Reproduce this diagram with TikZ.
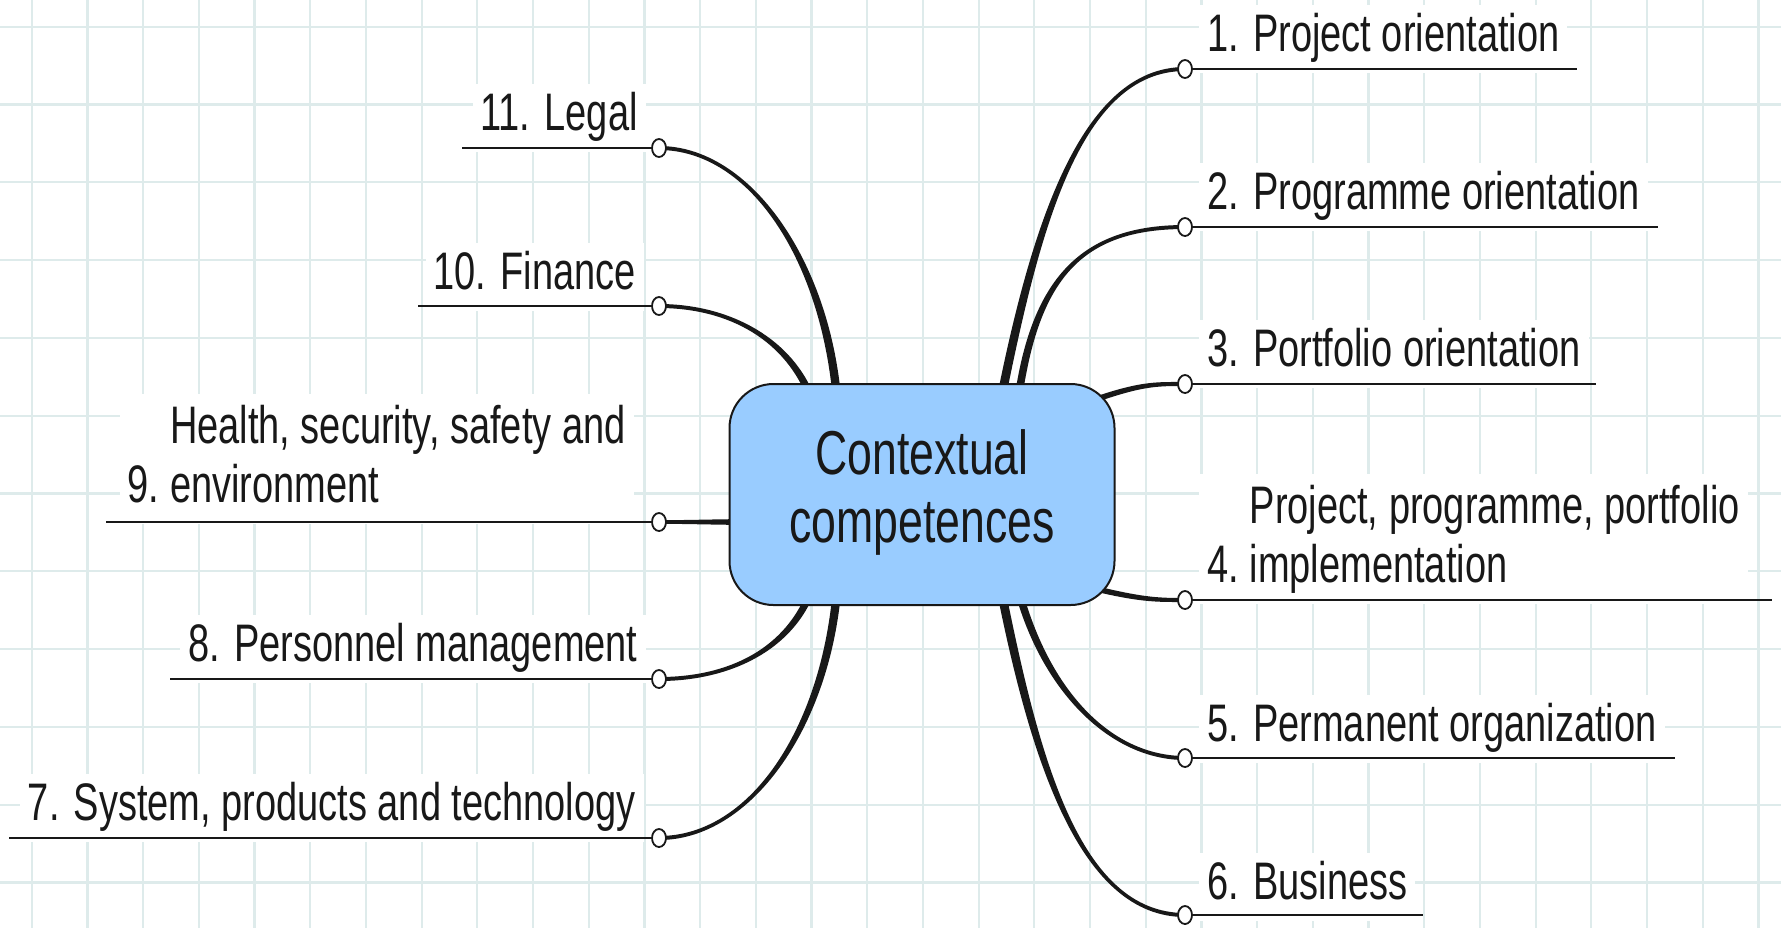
\documentclass[tikz,border=0pt]{standalone}
\usepackage{fontspec}
\setmainfont{Liberation Sans}
\usetikzlibrary{shapes.geometric,calc}
\pgfdeclarelayer{background}
\pgfsetlayers{background,main}
\definecolor{gridc}{RGB}{222,235,235}
\definecolor{boxblue}{RGB}{153,204,255}
\definecolor{ink}{RGB}{24,24,24}
\newcommand{\vstr}[1]{\scalebox{1}[1.39]{#1}}
% tapered connector: start, control 1, control 2, end, half width at start, half width at end
\newcommand{\taper}[6]{%
  \fill[ink] ($(#1)!#5!90:(#2)$) .. controls ($(#2)!#5!-90:(#1)$) and ($(#3)!#6!90:(#4)$) .. ($(#4)!#6!-90:(#3)$)
     -- ($(#4)!#6!90:(#3)$) .. controls ($(#3)!#6!-90:(#4)$) and ($(#2)!#5!90:(#1)$) .. ($(#1)!#5!-90:(#2)$) -- cycle;}
\begin{document}
\begin{tikzpicture}[x=0.5pt,y=-0.5pt,
  lbl/.style={fill=white,inner xsep=4pt,inner ysep=4pt,text depth=7pt,text=ink,font=\fontsize{19}{21.2}\selectfont},
  uline/.style={line width=1.4pt,draw=ink},
  knob/.style={ellipse,draw=ink,fill=white,line width=0.9pt,minimum width=7pt,minimum height=9pt,inner sep=0pt},
  centre/.style={rounded corners=22pt,draw=ink,line width=1pt,fill=boxblue,minimum width=192.5pt,minimum height=110.5pt,inner sep=0pt,align=center,text=ink,font=\fontsize{22.3}{24.5}\selectfont}]
\useasboundingbox (0,0) rectangle (1781,928);

\node[centre] (ctr) at (922,494.5) {\vstr{\begin{tabular}{@{}c@{}}Contextual\\competences\end{tabular}}};

% knobs
\node[knob] (k1) at (1185,69) {};
\node[knob] (k2) at (1185,227) {};
\node[knob] (k3) at (1185,384) {};
\node[knob] (k4) at (1185,600) {};
\node[knob] (k5) at (1185,758) {};
\node[knob] (k6) at (1185,915) {};
\node[knob] (k11) at (659,148) {};
\node[knob] (k10) at (659,306) {};
\node[knob] (k9) at (659,522) {};
\node[knob] (k8) at (659,679) {};
\node[knob] (k7) at (659,838) {};

% labels
\node[lbl,anchor=base west] (l1) at (1199,51) {\vstr{1. Project orientation}};
\node[lbl,anchor=base west] (l2) at (1199,209) {\vstr{2. Programme orientation}};
\node[lbl,anchor=base west] (l3) at (1199,366) {\vstr{3. Portfolio orientation}};
\node[lbl,anchor=base west] (l4) at (1199,582) {\vstr{\begin{tabular}[b]{@{}l@{\ }l@{}}&Project, programme, portfolio\\4.&implementation\end{tabular}}};
\node[lbl,anchor=base west] (l5) at (1199,741) {\vstr{5. Permanent organization}};
\node[lbl,anchor=base west] (l6) at (1199,899) {\vstr{6. Business}};
\node[lbl,anchor=base east] (l11) at (646,130) {\vstr{11. Legal}};
\node[lbl,anchor=base east] (l10) at (644,289) {\vstr{10. Finance}};
\node[lbl,anchor=base east] (l9) at (634,502) {\vstr{\begin{tabular}[b]{@{}l@{\ }l@{}}&Health, security, safety and\\9.&environment\end{tabular}}};
\node[lbl,anchor=base east] (l8) at (646,661) {\vstr{8. Personnel management}};
\node[lbl,anchor=base east] (l7) at (644,820) {\vstr{7. System, products and technology}};

% underline ends
\coordinate (e1) at (1577,69);
\coordinate (e2) at (1658,227);
\coordinate (e3) at (1596,384);
\coordinate (e4) at (1772,600);
\coordinate (e5) at (1675,758);
\coordinate (e6) at (1423,915);
\coordinate (e11) at (462,148);
\coordinate (e10) at (418,306);
\coordinate (e9) at (106,522);
\coordinate (e8) at (170,679);
\coordinate (e7) at (9,838);
\foreach \n in {1,2,3,4,5,6,7,8,9,10,11} \draw[uline] (k\n) -- (e\n);

% connector start points (inside the central box) and control points
\coordinate (s1) at ($(ctr.center)+(79,-95.5)$);
\coordinate (a1) at (1035,230);  \coordinate (b1) at (1080,69);
\coordinate (s2) at ($(ctr.center)+(96,-94.5)$);
\coordinate (a2) at (1035,280);  \coordinate (b2) at (1080,227);
\coordinate (s3) at ($(ctr.center)+(158,-89.5)$);
\coordinate (a3) at (1140,383);  \coordinate (b3) at (1155,384);
\coordinate (s4) at ($(ctr.center)+(158,90.5)$);
\coordinate (a4) at (1140,600);  \coordinate (b4) at (1155,600);
\coordinate (s5) at ($(ctr.center)+(96,94.5)$);
\coordinate (a5) at (1045,690);  \coordinate (b5) at (1110,758);
\coordinate (s6) at ($(ctr.center)+(79,95.5)$);
\coordinate (a6) at (1035,760);  \coordinate (b6) at (1080,915);
\coordinate (s11) at ($(ctr.center)+(-85,-95.5)$);
\coordinate (a11) at (825,260);  \coordinate (b11) at (750,148);
\coordinate (s10) at ($(ctr.center)+(-110,-94.5)$);
\coordinate (a10) at (790,340);  \coordinate (b10) at (730,306);
\coordinate (s9) at ($(ctr.center)+(-162,27.5)$);
\coordinate (a9) at (720,522);   \coordinate (b9) at (690,522);
\coordinate (s8) at ($(ctr.center)+(-110,94.5)$);
\coordinate (a8) at (790,649);   \coordinate (b8) at (730,679);
\coordinate (s7) at ($(ctr.center)+(-85,95.5)$);
\coordinate (a7) at (825,729);   \coordinate (b7) at (750,838);

\begin{pgfonlayer}{background}
\fill[white] (0,0) rectangle (1781,928);
\foreach \i in {0,...,31} \draw[gridc,line width=1.1pt] ({31.7+55.7*\i},0) -- ({31.7+55.7*\i},928);
\foreach \j in {0,...,11} \draw[gridc,line width=1.1pt] (0,{26.7+77.8*\j}) -- (1781,{26.7+77.8*\j});
\taper{s1}{a1}{b1}{k1.center}{2.2pt}{1.0pt}
\taper{s2}{a2}{b2}{k2.center}{1.9pt}{1.0pt}
\taper{s3}{a3}{b3}{k3.center}{1.4pt}{1.0pt}
\taper{s4}{a4}{b4}{k4.center}{1.4pt}{1.0pt}
\taper{s5}{a5}{b5}{k5.center}{1.9pt}{1.0pt}
\taper{s6}{a6}{b6}{k6.center}{2.2pt}{1.0pt}
\taper{s11}{a11}{b11}{k11.center}{2.1pt}{1.0pt}
\taper{s10}{a10}{b10}{k10.center}{1.8pt}{1.0pt}
\taper{s9}{a9}{b9}{k9.center}{1.5pt}{0.9pt}
\taper{s8}{a8}{b8}{k8.center}{1.8pt}{1.0pt}
\taper{s7}{a7}{b7}{k7.center}{2.1pt}{1.0pt}
\end{pgfonlayer}
\end{tikzpicture}
\end{document}
